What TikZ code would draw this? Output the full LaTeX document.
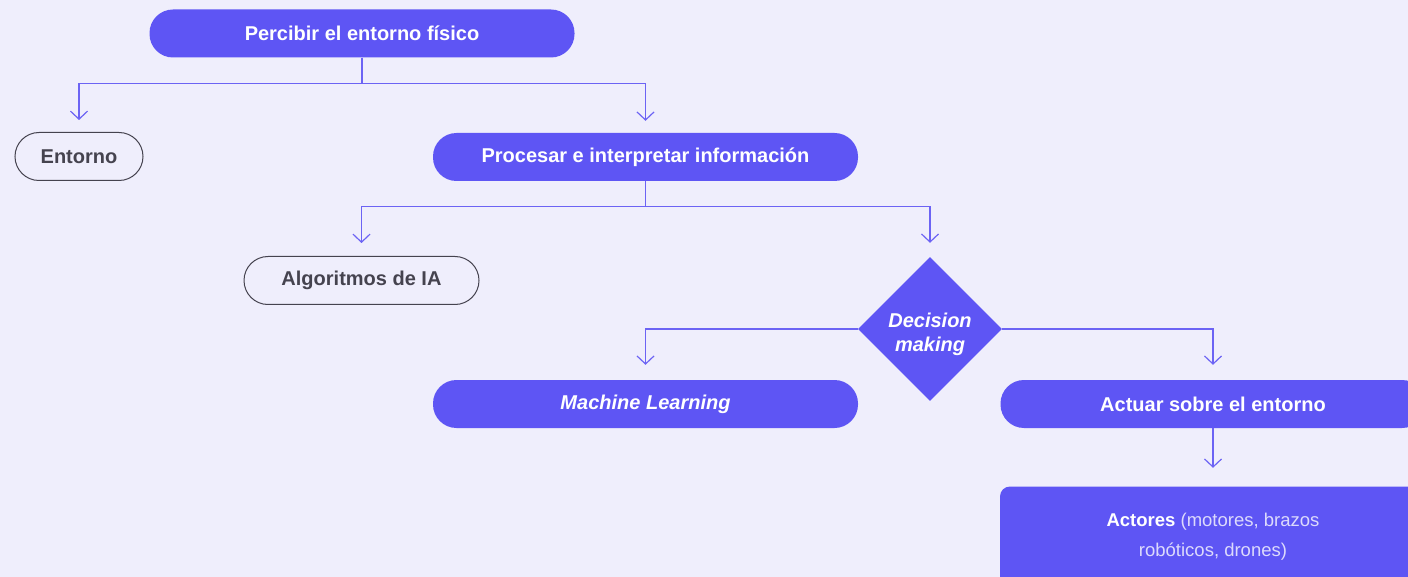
\documentclass[tikz,border=0pt]{standalone}
\usepackage{fontspec}
\setmainfont{Liberation Sans}
\usetikzlibrary{arrows.meta,shapes.geometric}
\definecolor{bgc}{HTML}{EFEEFC}
\definecolor{fillc}{HTML}{5E55F4}
\definecolor{linec}{HTML}{6C63F4}
\definecolor{darkt}{HTML}{45434F}
\definecolor{lightt}{HTML}{DCDAFC}
\tikzset{
  pill/.style={draw=none, fill=fillc, rounded corners=23.5pt, minimum width=425pt, minimum height=48pt, text=white, font=\fontsize{20}{24}\selectfont\bfseries, inner sep=0pt},
  opill/.style={draw=darkt, line width=1pt, fill=bgc, rounded corners=24pt, minimum height=48pt, text=darkt, font=\fontsize{20}{24}\selectfont\bfseries, inner sep=0pt},
  dmd/.style={diamond, fill=fillc, minimum width=144pt, minimum height=144pt, inner sep=0pt, text=white, font=\fontsize{20}{24}\selectfont\bfseries\itshape, align=center},
  sqbox/.style={fill=fillc, rounded corners=10pt, minimum width=426pt, minimum height=100pt, align=center, text=lightt, font=\fontsize{18.5}{30}\selectfont},
  conn/.style={draw=linec, line width=1.2pt, -{Straight Barb[length=8pt,width=17pt,line width=1.2pt]}},
}
\begin{document}
\begin{tikzpicture}[x=1pt,y=-1pt]
\useasboundingbox (0,0) rectangle (1408,577);
\clip (0,0) rectangle (1408,577);
\fill[bgc] (0,0) rectangle (1408,577);
\node[pill] (p) at (362,33.5) {Percibir el entorno físico};
\node[opill, minimum width=128pt] (e) at (79,156.5) {Entorno};
\node[pill] (pr) at (645.5,157) {Procesar e interpretar información};
\node[opill, minimum width=235pt] (a) at (361.5,280.5) {Algoritmos de IA};
\node[dmd] (d) at (930,329) {\raisebox{-11pt}[0pt][0pt]{\begin{tabular}{@{}c@{}}Decision\\making\end{tabular}}};
\node[pill, font=\fontsize{20}{24}\selectfont\bfseries\itshape] (ml) at (645.5,404) {Machine Learning};
\node[pill] (ac) at (1213,404) {Actuar sobre el entorno};
\node[sqbox] (at) at (1213,536.5) {\textcolor{white}{\bfseries Actores} (motores, brazos\\robóticos, drones)};
\draw[conn, shorten >=12pt] (p.south) -- ++(0,26) -| (e.north);
\draw[conn, shorten >=12pt] (p.south) -- ++(0,26) -| (pr.north);
\draw[conn, shorten >=13pt] (pr.south) -- ++(0,25) -| (a.north);
\draw[conn, shorten >=14pt] (pr.south) -- ++(0,25) -| (d.north);
\draw[conn, shorten >=15pt] (d.west) -| (ml.north);
\draw[conn, shorten >=15pt] (d.east) -| (ac.north);
\draw[conn, shorten >=17pt] (ac.south) -- ([yshift=1.5pt]at.north);
\end{tikzpicture}
\end{document}
